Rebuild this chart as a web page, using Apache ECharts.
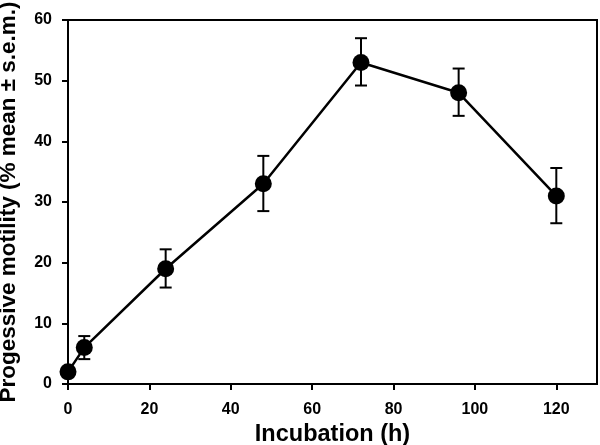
<!DOCTYPE html>
<html>
<head>
<meta charset="utf-8">
<script src="https://cdn.jsdelivr.net/npm/echarts@6/dist/echarts.min.js"></script>
<style>html,body{margin:0;padding:0;background:#fff}#c{width:600px;height:445px}</style>
</head>
<body>
<div id="c"></div>
<script>
var hours = [0, 4, 24, 48, 72, 96, 120];
var motility = [2, 6, 19, 33, 53, 48, 31];
var errLow = [2, 4.1, 15.9, 28.5, 49.2, 44.2, 26.5];
var errHigh = [2, 7.9, 22.2, 37.6, 57.0, 52.0, 35.6];
var xTicks = [0, 20, 40, 60, 80, 100, 120];
var yTicks = [0, 10, 20, 30, 40, 50, 60];

var font = 'Liberation Sans, Arial, sans-serif';
var chart = echarts.init(document.getElementById('c'));
chart.setOption({
  animation: false,
  grid: {left: 68, right: 3, top: 20, bottom: 61, containLabel: false, outerBoundsMode: 'none', show: true, borderColor: '#000', borderWidth: 2, backgroundColor: 'transparent'},
  xAxis: {
    type: 'value', min: 0, max: 130, interval: 20,
    name: 'Incubation (h)', nameLocation: 'middle', nameGap: 35.5,
    nameTextStyle: {fontFamily: font, fontWeight: 'bold', fontSize: 23.5, color: '#000'},
    axisLine: {show: true, lineStyle: {color: '#000', width: 2}},
    axisTick: {show: true, length: 6, lineStyle: {color: '#000', width: 2}, customValues: xTicks},
    axisLabel: {fontFamily: font, fontWeight: 'bold', fontSize: 16, color: '#000', margin: 18, customValues: xTicks},
    splitLine: {show: false}
  },
  yAxis: {
    type: 'value', min: 0, max: 60, interval: 10,
    name: 'Progessive motility (% mean \u00b1 s.e.m.)', nameLocation: 'middle', nameGap: 48,
    nameTextStyle: {fontFamily: font, fontWeight: 'bold', fontSize: 22.5, color: '#000'},
    axisLine: {show: true, lineStyle: {color: '#000', width: 2}},
    axisTick: {show: true, length: 6, lineStyle: {color: '#000', width: 2}},
    axisLabel: {fontFamily: font, fontWeight: 'bold', fontSize: 16, color: '#000', margin: 16},
    splitLine: {show: false}
  },
  series: [
    {
      type: 'custom',
      renderItem: function (params, api) {
        var x = api.value(0);
        var lo = api.coord([x, api.value(1)]);
        var hi = api.coord([x, api.value(2)]);
        var w = 6;
        var style = {stroke: '#000', lineWidth: 2};
        return {type: 'group', children: [
          {type: 'line', shape: {x1: lo[0], y1: lo[1], x2: hi[0], y2: hi[1]}, style: style},
          {type: 'line', shape: {x1: lo[0] - w, y1: lo[1], x2: lo[0] + w, y2: lo[1]}, style: style},
          {type: 'line', shape: {x1: hi[0] - w, y1: hi[1], x2: hi[0] + w, y2: hi[1]}, style: style}
        ]};
      },
      data: hours.map(function (h, i) { return [h, errLow[i], errHigh[i]]; }),
      z: 1
    },
    {
      type: 'line',
      data: hours.map(function (h, i) { return [h, motility[i]]; }),
      symbol: 'circle', symbolSize: 17,
      lineStyle: {color: '#000', width: 2.5},
      itemStyle: {color: '#000'},
      clip: false,
      z: 3
    }
  ]
});
</script>
</body>
</html>
